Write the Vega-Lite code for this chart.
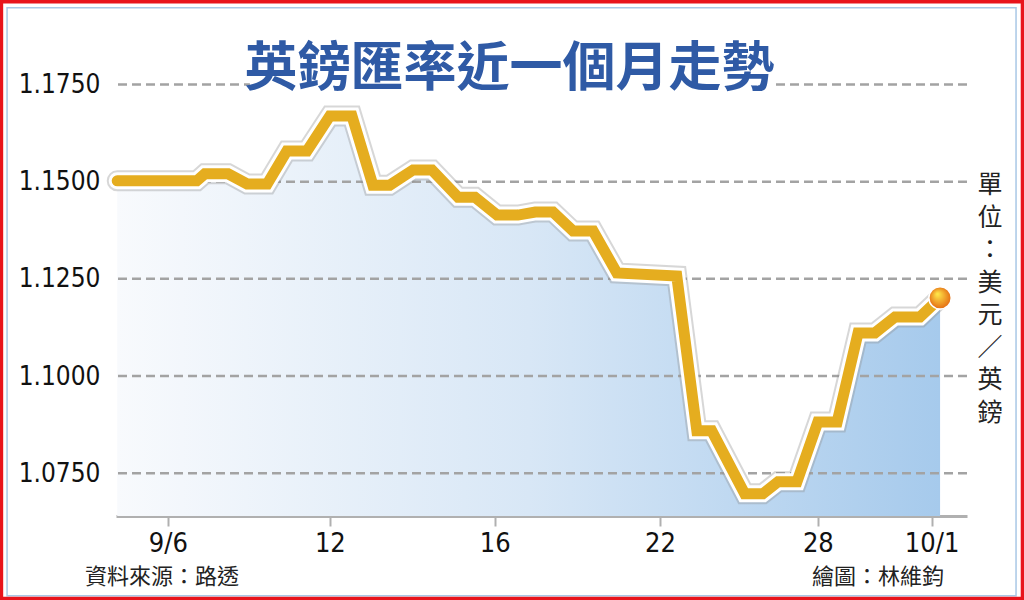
{
  "$schema": "https://vega.github.io/schema/vega-lite/v6.json",
  "autosize": {"type": "none"},
  "width": 851,
  "height": 451,
  "padding": {"left": 116, "top": 65, "right": 57, "bottom": 84},
  "background": "white",
  "config": {"view": {"stroke": null}, "font": "Noto Sans CJK TC"},
  "datasets": {
    "series": [
      {"t": -1.26, "v": 1.1502}, {"t": 0.72, "v": 1.1502},
      {"t": 0.92, "v": 1.1520}, {"t": 1.50, "v": 1.1520},
      {"t": 1.97, "v": 1.1494}, {"t": 2.47, "v": 1.1494},
      {"t": 2.96, "v": 1.1579}, {"t": 3.46, "v": 1.1579},
      {"t": 4.03, "v": 1.1669}, {"t": 4.58, "v": 1.1669},
      {"t": 5.10, "v": 1.1491}, {"t": 5.52, "v": 1.1491},
      {"t": 6.10, "v": 1.1530}, {"t": 6.57, "v": 1.1530},
      {"t": 7.22, "v": 1.1460}, {"t": 7.64, "v": 1.1460},
      {"t": 8.19, "v": 1.1414}, {"t": 8.71, "v": 1.1414},
      {"t": 9.14, "v": 1.1422}, {"t": 9.58, "v": 1.1422},
      {"t": 10.08, "v": 1.1373}, {"t": 10.58, "v": 1.1373},
      {"t": 11.17, "v": 1.1265}, {"t": 12.66, "v": 1.1257},
      {"t": 13.16, "v": 1.0859}, {"t": 13.53, "v": 1.0859},
      {"t": 14.35, "v": 1.0697}, {"t": 14.80, "v": 1.0697},
      {"t": 15.18, "v": 1.0728}, {"t": 15.65, "v": 1.0728},
      {"t": 16.17, "v": 1.0882}, {"t": 16.65, "v": 1.0882},
      {"t": 17.17, "v": 1.1111}, {"t": 17.59, "v": 1.1111},
      {"t": 18.09, "v": 1.1152}, {"t": 18.71, "v": 1.1152},
      {"t": 19.21, "v": 1.1201}
    ],
    "grid": [{"v": 1.075}, {"v": 1.1}, {"v": 1.125}, {"v": 1.15}, {"v": 1.175}],
    "last": [{"t": 19.21, "v": 1.1201}]
  },
  "layer": [
    {
      "data": {"name": "series"},
      "mark": {
        "type": "area",
        "fill": {
          "gradient": "linear", "x1": 0, "y1": 0, "x2": 1, "y2": 0,
          "stops": [
            {"offset": 0, "color": "#f8fafd"},
            {"offset": 0.5, "color": "#d8e7f6"},
            {"offset": 1, "color": "#a6caec"}
          ]
        }
      },
      "encoding": {
        "x": {
          "field": "t", "type": "quantitative",
          "scale": {"domain": [-1.29, 19.88], "nice": false, "zero": false},
          "axis": {
            "title": null, "grid": false,
            "values": [0, 4.03, 8.13, 12.24, 16.17, 19],
            "labelExpr": "datum.value < 1 ? '9/6' : datum.value < 5 ? '12' : datum.value < 9 ? '16' : datum.value < 13 ? '22' : datum.value < 17 ? '28' : '10/1'",
            "domainColor": "#b0b0b0", "domainWidth": 3,
            "tickColor": "#b0b0b0", "tickWidth": 2, "tickSize": 10,
            "labelFont": "'DejaVu Sans Condensed', Roboto, sans-serif", "labelFontSize": 27,
            "labelColor": "#111", "labelPadding": 4
          }
        },
        "y": {
          "field": "v", "type": "quantitative",
          "scale": {"domain": [1.064, 1.18], "nice": false, "zero": false},
          "axis": {
            "title": null, "grid": false, "domain": false, "ticks": false,
            "values": [1.075, 1.1, 1.125, 1.15, 1.175],
            "format": ".4f",
            "labelFont": "'DejaVu Sans Condensed', Roboto, sans-serif", "labelFontSize": 26,
            "labelColor": "#111", "labelPadding": 16
          }
        },
        "y2": {"datum": 1.064}
      }
    },
    {
      "data": {"name": "grid"},
      "mark": {"type": "rule", "stroke": "#a3a3a3", "strokeWidth": 2.5, "strokeDash": [9, 5]},
      "encoding": {"y": {"field": "v", "type": "quantitative"}}
    },
    {
      "data": {"values": [{}]},
      "mark": {"type": "rect", "fill": "white"},
      "encoding": {
        "x": {"datum": 2.04}, "x2": {"datum": 15.05},
        "y": {"datum": 1.172}, "y2": {"datum": 1.178}
      }
    },
    {
      "data": {"values": [{}]},
      "mark": {
        "type": "text", "text": "英鎊匯率近一個月走勢",
        "font": "Noto Sans CJK TC", "fontWeight": "bold", "fontSize": 53,
        "color": "#2f5aa5", "align": "center", "baseline": "middle"
      },
      "encoding": {"x": {"datum": 8.5}, "y": {"datum": 1.1788}}
    },
    {
      "data": {"name": "series"},
      "mark": {"type": "line", "stroke": "#8c8c8c", "strokeWidth": 21, "opacity": 0.35, "strokeCap": "round", "strokeJoin": "miter"},
      "encoding": {"x": {"field": "t", "type": "quantitative"}, "y": {"field": "v", "type": "quantitative"}}
    },
    {
      "data": {"name": "series"},
      "mark": {"type": "line", "stroke": "white", "strokeWidth": 17, "strokeCap": "round", "strokeJoin": "miter"},
      "encoding": {"x": {"field": "t", "type": "quantitative"}, "y": {"field": "v", "type": "quantitative"}}
    },
    {
      "data": {"name": "series"},
      "mark": {"type": "line", "stroke": "#e5ad1f", "strokeWidth": 11, "strokeCap": "round", "strokeJoin": "miter"},
      "encoding": {"x": {"field": "t", "type": "quantitative"}, "y": {"field": "v", "type": "quantitative"}}
    },
    {
      "data": {"name": "last"},
      "mark": {
        "type": "point", "filled": true, "size": 500, "opacity": 1,
        "stroke": "white", "strokeWidth": 1.5,
        "fill": {
          "gradient": "radial", "x1": 0.38, "y1": 0.32, "r1": 0.02, "x2": 0.5, "y2": 0.5, "r2": 0.55,
          "stops": [{"offset": 0, "color": "#ffe84a"}, {"offset": 1, "color": "#e2620e"}]
        }
      },
      "encoding": {"x": {"field": "t", "type": "quantitative"}, "y": {"field": "v", "type": "quantitative"}}
    },
    {
      "data": {"values": [{}]},
      "mark": {"type": "text", "text": "資料來源：路透", "fontSize": 22, "color": "#222", "align": "left", "baseline": "middle"},
      "encoding": {"x": {"datum": -2.06}, "y": {"datum": 1.0482}}
    },
    {
      "data": {"values": [{}]},
      "mark": {"type": "text", "text": "繪圖：林維鈞", "fontSize": 22, "color": "#222", "align": "right", "baseline": "middle"},
      "encoding": {"x": {"datum": 19.31}, "y": {"datum": 1.0482}}
    },
    {
      "data": {"values": [{}]},
      "mark": {
        "type": "text", "text": ["單", "位", "：", "美", "元", "／", "英", "鎊"],
        "fontSize": 25, "lineHeight": 32.5, "color": "#222", "align": "center", "baseline": "top"
      },
      "encoding": {"x": {"datum": 20.45}, "y": {"datum": 1.1522}}
    },
    {
      "data": {"values": [{}]},
      "mark": {"type": "rect", "fill": null, "stroke": "#a9c8e6", "strokeWidth": 1.5},
      "encoding": {
        "x": {"datum": -4.0}, "x2": {"datum": 21.10},
        "y": {"datum": 1.1947}, "y2": {"datum": 1.0435}
      }
    },
    {
      "data": {"values": [{}]},
      "mark": {"type": "rect", "fill": null, "stroke": "#e8141c", "strokeWidth": 3.5},
      "encoding": {
        "x": {"datum": -4.14}, "x2": {"datum": 21.26},
        "y": {"datum": 1.1963}, "y2": {"datum": 1.0428}
      }
    }
  ]
}
